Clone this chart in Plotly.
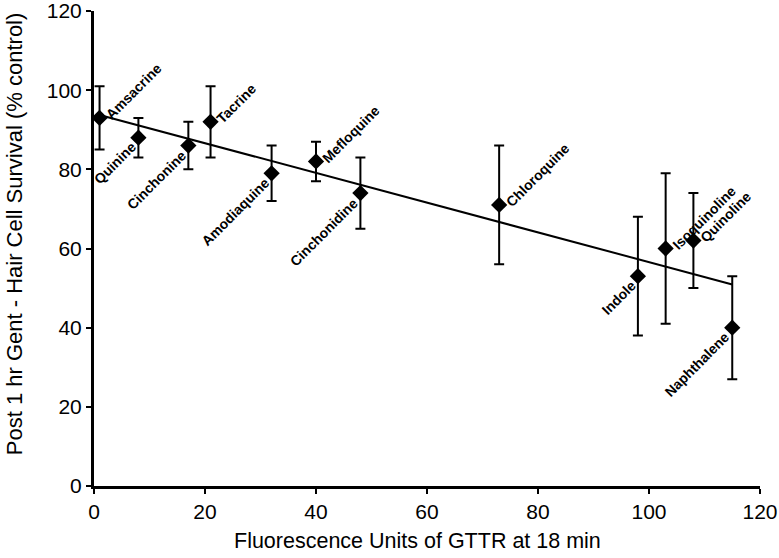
import numpy as np
import plotly.graph_objects as go

# ---- data ----
compounds = ["Amsacrine", "Quinine", "Cinchonine", "Tacrine", "Amodiaquine", "Mefloquine",
             "Cinchonidine", "Chloroquine", "Indole", "Isoquinoline", "Quinoline", "Naphthalene"]
fluorescence = [1, 8, 17, 21, 32, 40, 48, 73, 98, 103, 108, 115]
survival = [93, 88, 86, 92, 79, 82, 74, 71, 53, 60, 62, 40]
survival_err = [8, 5, 6, 9, 7, 5, 9, 15, 15, 19, 12, 13]
label_side = ["up", "down", "down", "up", "down", "up", "down", "up", "down", "up", "up", "down"]

x_ticks = [0, 20, 40, 60, 80, 100, 120]
y_ticks = [0, 20, 40, 60, 80, 100, 120]
x_title = "Fluorescence Units of GTTR at 18 min"
y_title = "Post 1 hr Gent - Hair Cell Survival (% control)"

# linear trend line (least squares over the data)
slope, intercept = np.polyfit(fluorescence, survival, 1)
trend_x = [min(fluorescence), max(fluorescence)]
trend_y = [slope * v + intercept for v in trend_x]

fig = go.Figure()
fig.add_trace(go.Scatter(x=trend_x, y=trend_y, mode="lines",
                         line=dict(color="black", width=2), hoverinfo="skip", showlegend=False))
fig.add_trace(go.Scatter(
    x=fluorescence, y=survival, mode="markers",
    marker=dict(symbol="diamond", size=12.5, color="black"),
    error_y=dict(type="data", array=survival_err, color="black", thickness=2, width=5),
    showlegend=False, text=compounds))

label_font = dict(family="Liberation Sans, Arial, sans-serif", size=14, color="black")
for name, xv, yv, side in zip(compounds, fluorescence, survival, label_side):
    if side == "up":
        fig.add_annotation(x=xv, y=yv, text="<b>%s</b>" % name, showarrow=False, textangle=-45,
                           xanchor="left", yanchor="bottom", xshift=2, yshift=-6, font=label_font,
                           borderpad=0)
    else:
        fig.add_annotation(x=xv, y=yv, text="<b>%s</b>" % name, showarrow=False, textangle=-45,
                           xanchor="right", yanchor="top", xshift=2, yshift=0, font=label_font,
                           borderpad=0)

fig.add_annotation(xref="paper", yref="paper", x=0.5, y=0, xanchor="center", yanchor="top",
                   yshift=-41, xshift=-10, text=x_title, showarrow=False,
                   font=dict(family="Liberation Sans, Arial", size=21.5, color="black"))
fig.add_annotation(xref="paper", yref="paper", x=0, y=0.53, xanchor="center", yanchor="middle",
                   xshift=-80, textangle=-90, text=y_title, showarrow=False,
                   font=dict(family="Liberation Sans, Arial", size=22, color="black"))

tick_font = dict(family="Liberation Sans, Arial", size=21, color="black")
axis_common = dict(range=[0, 120], ticks="outside", ticklen=5, tickwidth=2,
                   tickcolor="black", showline=True, linecolor="black", linewidth=3,
                   showgrid=False, zeroline=False, tickfont=tick_font, automargin=False,
                   ticklabeloverflow="allow")
fig.update_layout(
    width=779, height=558,
    margin=dict(l=94, r=19, t=11, b=72),
    plot_bgcolor="white", paper_bgcolor="white",
    xaxis=dict(tickvals=x_ticks, **axis_common),
    yaxis=dict(tickvals=y_ticks, **axis_common),
)

fig.write_html("out.html", config={"displayModeBar": False},
               post_script="document.body.style.margin='0';")
